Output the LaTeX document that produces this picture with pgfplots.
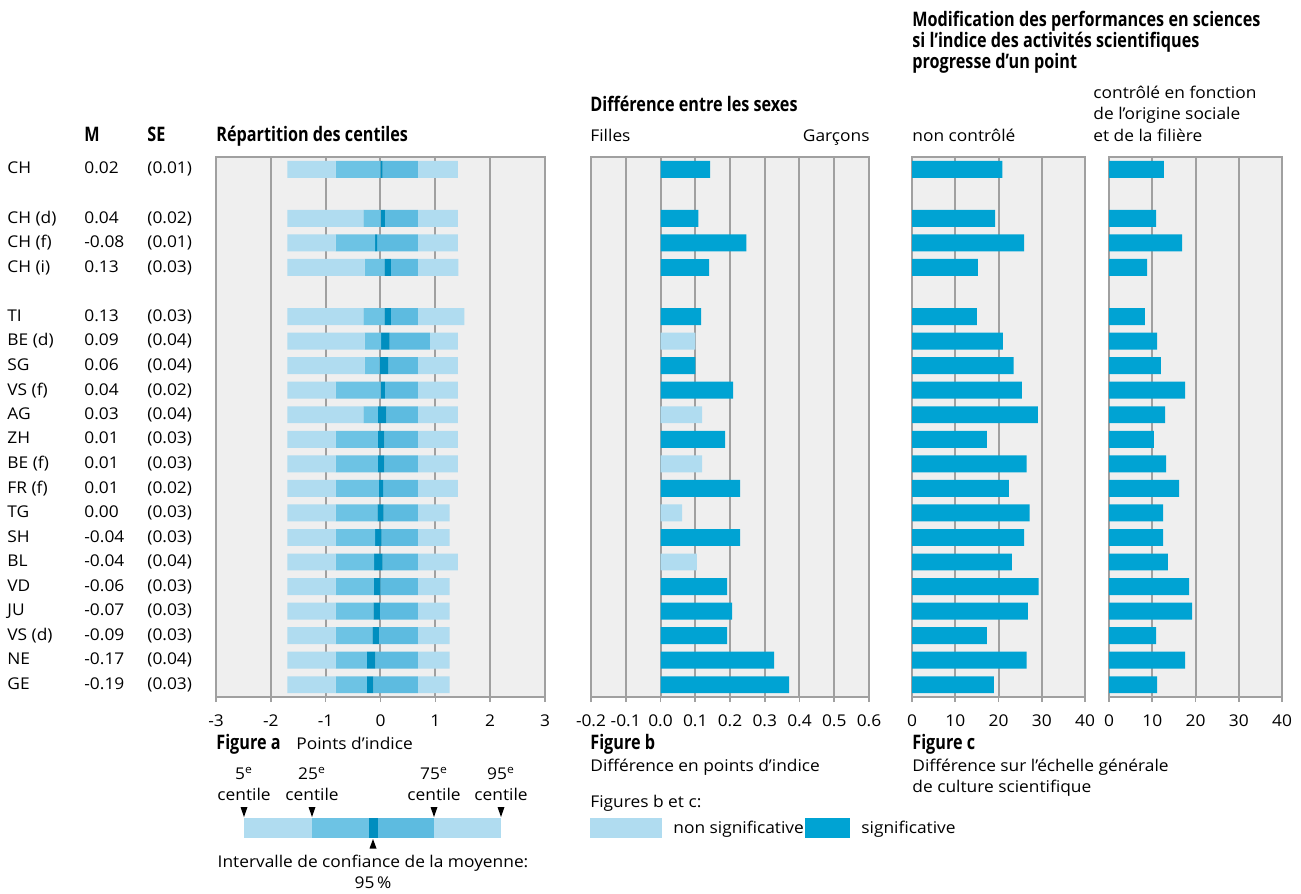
\documentclass[border=0pt]{standalone}
\usepackage{fontspec}
\setmainfont{Open Sans}[UprightFeatures={FakeStretch=1.07}, BoldFeatures={FakeStretch=0.81}]
\usepackage{pgfplots}
\usepackage{pgfplotstable}
\pgfplotsset{compat=1.18}

\definecolor{cLight}{HTML}{B0DCF0}
\definecolor{cMedL}{HTML}{6DC3E4}
\definecolor{cMedR}{HTML}{5DBBE0}
\definecolor{cDark}{HTML}{008EBF}
\definecolor{cSig}{HTML}{00A3D3}
\definecolor{cPanel}{HTML}{EFEFEF}
\definecolor{cFrame}{HTML}{A0A0A0}

% Figure a: percentiles and confidence interval of the mean
\pgfplotstableread{
pos p5 p25 lo hi p75 p95
0 -1.70 -0.82 0.000 0.040 0.68 1.41
2 -1.70 -0.31 0.001 0.079 0.68 1.41
3 -1.70 -0.82 -0.100 -0.060 0.68 1.41
4 -1.70 -0.29 0.071 0.189 0.68 1.42
6 -1.70 -0.31 0.071 0.189 0.68 1.53
7 -1.70 -0.29 0.012 0.168 0.90 1.41
8 -1.70 -0.29 -0.018 0.138 0.68 1.41
9 -1.70 -0.82 0.001 0.079 0.68 1.41
10 -1.70 -0.31 -0.048 0.108 0.68 1.41
11 -1.70 -0.82 -0.049 0.069 0.68 1.41
12 -1.70 -0.82 -0.049 0.069 0.68 1.41
13 -1.70 -0.82 -0.029 0.049 0.68 1.41
14 -1.70 -0.82 -0.059 0.059 0.68 1.26
15 -1.70 -0.82 -0.099 0.019 0.68 1.26
16 -1.70 -0.82 -0.118 0.038 0.68 1.41
17 -1.70 -0.82 -0.119 -0.001 0.68 1.26
18 -1.70 -0.82 -0.129 -0.011 0.68 1.26
19 -1.70 -0.82 -0.149 -0.031 0.68 1.26
20 -1.70 -0.82 -0.248 -0.092 0.68 1.26
21 -1.70 -0.82 -0.249 -0.131 0.68 1.26
}\tabA

% Figure b: gender difference (s = significant, n = non significant)
\pgfplotstableread{
pos s n
0 0.143 0
2 0.109 0
3 0.247 0
4 0.140 0
6 0.117 0
7 0 0.100
8 0.100 0
9 0.209 0
10 0 0.120
11 0.186 0
12 0 0.120
13 0.229 0
14 0 0.062
15 0.229 0
16 0 0.105
17 0.192 0
18 0.206 0
19 0.192 0
20 0.327 0
21 0.370 0
}\tabB

% Figure c: non controlled / controlled
\pgfplotstableread{
pos nc c
0 20.9 12.7
2 19.2 10.9
3 25.9 16.9
4 15.2 8.8
6 15.0 8.3
7 21.0 11.1
8 23.5 12.0
9 25.4 17.6
10 29.1 13.0
11 17.3 10.4
12 26.5 13.2
13 22.4 16.2
14 27.2 12.5
15 25.9 12.5
16 23.1 13.6
17 29.3 18.5
18 26.8 19.2
19 17.3 10.9
20 26.5 17.6
21 18.9 11.1
}\tabC

\newcommand\rl[3]{\makebox[38.5pt][l]{#1}\makebox[31.5pt][l]{#2}#3}

\pgfplotsset{panel/.style={
  scale only axis, height=270pt,
  ymin=-0.5, ymax=21.5, y dir=reverse,
  axis background/.style={fill=cPanel},
  axis line style={draw=cFrame, line width=1pt},
  xmajorgrids, grid style={draw=cFrame, line width=1pt},
  xtick pos=bottom, ytick pos=left, tick align=outside,
  major tick length=2.5pt,
  xtick style={draw=cFrame, line width=0.8pt},
  ytick style={draw=none},
  xticklabel style={yshift=-3pt},
  bar width=0.69,
}}

\begin{document}
\begin{tikzpicture}[font=\fontsize{8.1}{9.7}\selectfont]
\path[use as bounding box] (0,0) rectangle (650.5pt,-447pt);

% ---------- Figure a ----------
\begin{axis}[panel, at={(108pt,-348.5pt)}, anchor=south west, width=164.5pt,
  xmin=0, xmax=6, xtick={0,1,2,3,4,5,6}, xticklabels={-3,-2,-1,0,1,2,3},
  xbar stacked,
  ytick={0,2,3,4,6,7,8,9,10,11,12,13,14,15,16,17,18,19,20,21},
  yticklabels={{\rl{CH}{0.02}{(0.01)}},{\rl{CH (d)}{0.04}{(0.02)}},{\rl{CH (f)}{-0.08}{(0.01)}},{\rl{CH (i)}{0.13}{(0.03)}},
    {\rl{TI}{0.13}{(0.03)}},{\rl{BE (d)}{0.09}{(0.04)}},{\rl{SG}{0.06}{(0.04)}},{\rl{VS (f)}{0.04}{(0.02)}},
    {\rl{AG}{0.03}{(0.04)}},{\rl{ZH}{0.01}{(0.03)}},{\rl{BE (f)}{0.01}{(0.03)}},{\rl{FR (f)}{0.01}{(0.02)}},
    {\rl{TG}{0.00}{(0.03)}},{\rl{SH}{-0.04}{(0.03)}},{\rl{BL}{-0.04}{(0.04)}},{\rl{VD}{-0.06}{(0.03)}},
    {\rl{JU}{-0.07}{(0.03)}},{\rl{VS (d)}{-0.09}{(0.03)}},{\rl{NE}{-0.17}{(0.04)}},{\rl{GE}{-0.19}{(0.03)}}},
  yticklabel style={anchor=west, inner sep=0pt, xshift=-102pt},
]
\addplot[draw=none, fill=none] table[x expr=\thisrow{p5}+3, y=pos]{\tabA};
\addplot[draw=none, fill=cLight] table[x expr=\thisrow{p25}-\thisrow{p5}, y=pos]{\tabA};
\addplot[draw=none, fill=cMedL] table[x expr=\thisrow{lo}-\thisrow{p25}, y=pos]{\tabA};
\addplot[draw=none, fill=cDark] table[x expr=\thisrow{hi}-\thisrow{lo}, y=pos]{\tabA};
\addplot[draw=none, fill=cMedR] table[x expr=\thisrow{p75}-\thisrow{hi}, y=pos]{\tabA};
\addplot[draw=none, fill=cLight] table[x expr=\thisrow{p95}-\thisrow{p75}, y=pos]{\tabA};
\end{axis}

% ---------- Figure b ----------
\begin{axis}[panel, at={(295.5pt,-348.5pt)}, anchor=south west, width=139pt,
  xmin=-0.2, xmax=0.6, xtick={-0.2,-0.1,0,0.1,0.2,0.3,0.4,0.5,0.6},
  xticklabels={-0.2,-0.1,0.0,0.1,0.2,0.3,0.4,0.5,0.6},
  xbar, ytick=\empty]
\addplot[draw=none, fill=cSig, bar shift=0pt] table[x=s, y=pos]{\tabB};
\addplot[draw=none, fill=cLight, bar shift=0pt] table[x=n, y=pos]{\tabB};
\end{axis}

% ---------- Figure c (non controlled) ----------
\begin{axis}[panel, at={(456pt,-348.5pt)}, anchor=south west, width=86.5pt,
  xmin=0, xmax=40, xtick={0,10,20,30,40}, xticklabels={0,10,20,30,40},
  xbar, ytick=\empty]
\addplot[draw=none, fill=cSig, bar shift=0pt] table[x=nc, y=pos]{\tabC};
\end{axis}

% ---------- Figure c (controlled) ----------
\begin{axis}[panel, at={(554.5pt,-348.5pt)}, anchor=south west, width=86.5pt,
  xmin=0, xmax=40, xtick={0,10,20,30,40}, xticklabels={0,10,20,30,40},
  xbar, ytick=\empty]
\addplot[draw=none, fill=cSig, bar shift=0pt] table[x=c, y=pos]{\tabC};
\end{axis}

\begin{scope}[x=0.5pt, y=-0.5pt, every node/.style={inner sep=0pt}]
% headers
\node[anchor=base west, font=\bfseries] at (84,141) {M};
\node[anchor=base west, font=\bfseries] at (147,141) {SE};
\node[anchor=base west, font=\bfseries] at (216,141) {Répartition des centiles};
\node[anchor=base west, font=\bfseries] at (590,111) {Différence entre les sexes};
\node[anchor=base west] at (590,141) {Filles};
\node[anchor=base east] at (870,141) {Garçons};
\node[anchor=base west, font=\bfseries] at (912,26.5) {Modification des performances en sciences};
\node[anchor=base west, font=\bfseries] at (912,47.5) {si l'indice des activités scientifiques};
\node[anchor=base west, font=\bfseries] at (912,68.5) {progresse d'un point};
\node[anchor=base west] at (1093,98) {contrôlé en fonction};
\node[anchor=base west] at (1093,119.5) {de l'origine sociale};
\node[anchor=base west] at (1093,141) {et de la filière};
\node[anchor=base west] at (912,141) {non contrôlé};
% captions
\node[anchor=base west, font=\bfseries] at (216,749) {Figure a};
\node[anchor=base west] at (296,749) {Points d'indice};
\node[anchor=base west, font=\bfseries] at (590,749) {Figure b};
\node[anchor=base west] at (590,771) {Différence en points d'indice};
\node[anchor=base west, font=\bfseries] at (912,749) {Figure c};
\node[anchor=base west] at (912,771) {Différence sur l'échelle générale};
\node[anchor=base west] at (912,792) {de culture scientifique};
\node[anchor=base west] at (590,807) {Figures b et c:};
% legend b / c
\fill[cLight] (590,817.5) rectangle (662,838);
\node[anchor=base west] at (673,833) {non significative};
\fill[cSig] (805,817.5) rectangle (850,838);
\node[anchor=base west] at (861,833) {significative};
% legend a (schematic)
\fill[cLight] (244,817.5) rectangle (312,838);
\fill[cMedL] (312,817.5) rectangle (369,838);
\fill[cDark] (369,817.5) rectangle (378,838);
\fill[cMedR] (378,817.5) rectangle (434,838);
\fill[cLight] (434,817.5) rectangle (501,838);
\foreach \xx in {244,312,434,501} {\fill[black] (\xx-3.5,807) -- (\xx+3.5,807) -- (\xx,817) -- cycle;}
\fill[black] (369.5,848.5) -- (376.5,848.5) -- (373,839) -- cycle;
\node[anchor=base] at (244,779) {5\textsuperscript{e}};
\node[anchor=base] at (244,800) {centile};
\node[anchor=base] at (312,779) {25\textsuperscript{e}};
\node[anchor=base] at (312,800) {centile};
\node[anchor=base] at (434,779) {75\textsuperscript{e}};
\node[anchor=base] at (434,800) {centile};
\node[anchor=base] at (501,779) {95\textsuperscript{e}};
\node[anchor=base] at (501,800) {centile};
\node[anchor=base] at (373,867) {Intervalle de confiance de la moyenne:};
\node[anchor=base] at (373,888) {95\,\%};
\end{scope}
\end{tikzpicture}
\end{document}
